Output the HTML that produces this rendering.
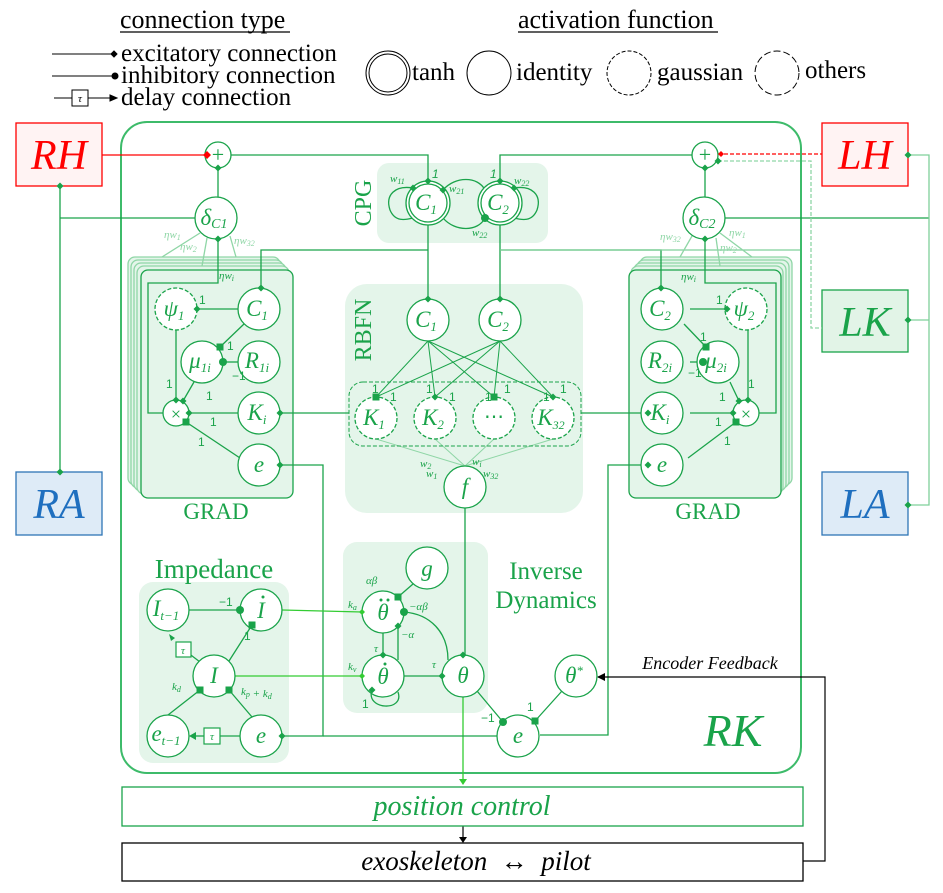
<!DOCTYPE html>
<html><head><meta charset="utf-8"><style>
html,body{margin:0;padding:0;background:#fff}
svg{display:block}
.s{font-family:"Liberation Serif",serif}
.n{font-family:"Liberation Serif",serif;font-style:italic;fill:#1aa34a;font-size:23px;text-anchor:middle}
.w{font-family:"Liberation Serif",serif;font-style:italic;fill:#1aa34a;font-size:11px}
.o{font-family:"Liberation Sans",sans-serif;fill:#1aa34a;font-size:12px}
</style></head><body>
<svg width="943" height="893" viewBox="0 0 943 893" xmlns="http://www.w3.org/2000/svg">
<defs>
<path id="d" d="M-3.5 0L0 -3.5L3.5 0L0 3.5Z" fill="#1aa34a"/>
<circle id="b" r="4" fill="#1aa34a"/>
<rect id="q" x="-3.5" y="-3.5" width="7" height="7" fill="#1aa34a"/>
</defs>
<!-- legend -->
<g class="s" font-size="25" fill="#000">
<text x="120" y="28" font-size="26">connection type</text>
<line x1="120" y1="32" x2="290" y2="32" stroke="#000" stroke-width="1.2"/>
<text x="518" y="28" font-size="26">activation function</text>
<line x1="518" y1="32" x2="718" y2="32" stroke="#000" stroke-width="1.2"/>
<text x="121" y="61">excitatory connection</text>
<text x="121" y="83">inhibitory connection</text>
<text x="121" y="105">delay connection</text>
<text x="412" y="80">tanh</text>
<text x="516" y="80">identity</text>
<text x="657" y="80">gaussian</text>
<text x="805" y="78">others</text>
</g>
<g stroke="#000" stroke-width="1" fill="none">
<line x1="52" y1="54" x2="114" y2="54"/><path d="M111 54l3-3 3 3-3 3z" fill="#000"/>
<line x1="52" y1="76" x2="114" y2="76"/><circle cx="115" cy="76" r="3" fill="#000"/>
<line x1="54" y1="98" x2="72" y2="98"/><rect x="72" y="90" width="16" height="16"/><text x="80" y="102" font-size="11" font-style="italic" text-anchor="middle" fill="#000" stroke="none" class="s">τ</text>
<line x1="88" y1="98" x2="112" y2="98"/><path d="M110 95l7 3-7 3z" fill="#000"/>
<circle cx="388" cy="73" r="22"/><circle cx="388" cy="73" r="19"/>
<circle cx="489" cy="73" r="22"/>
<circle cx="629" cy="73" r="22" stroke-dasharray="4,2"/>
<circle cx="777" cy="73" r="22" stroke-dasharray="7,3"/>
</g>

<!-- side boxes -->
<rect x="16" y="123" width="86" height="63" fill="#fff3f3" stroke="#ff0000" stroke-width="1.3"/>
<text x="59" y="169" class="s" font-style="italic" font-size="42" fill="#ff0000" text-anchor="middle">RH</text>
<rect x="822" y="123" width="86" height="63" fill="#fff3f3" stroke="#ff0000" stroke-width="1.3"/>
<text x="865" y="169" class="s" font-style="italic" font-size="42" fill="#ff0000" text-anchor="middle">LH</text>
<rect x="822" y="290" width="86" height="62" fill="#e2f4e7" stroke="#1aa34a" stroke-width="1.3"/>
<text x="865" y="336" class="s" font-style="italic" font-size="42" fill="#1aa34a" text-anchor="middle">LK</text>
<rect x="16" y="472" width="86" height="63" fill="#deebf7" stroke="#2e75b6" stroke-width="1.3"/>
<text x="59" y="518" class="s" font-style="italic" font-size="42" fill="#1f6fbf" text-anchor="middle">RA</text>
<rect x="822" y="472" width="86" height="63" fill="#deebf7" stroke="#2e75b6" stroke-width="1.3"/>
<text x="865" y="518" class="s" font-style="italic" font-size="42" fill="#1f6fbf" text-anchor="middle">LA</text>

<!-- RK box -->
<rect x="121" y="122" width="680" height="651" rx="26" fill="none" stroke="#3dbb6a" stroke-width="2"/>
<text x="733" y="746" class="s" font-style="italic" font-size="46" fill="#1aa34a" text-anchor="middle">RK</text>

<!-- shaded regions -->
<g fill="#e4f5ea" stroke="none">
<rect x="377" y="163" width="171" height="80" rx="12"/>
<rect x="345" y="284" width="238" height="229" rx="22"/>
<rect x="139" y="582" width="150" height="181" rx="14"/>
<rect x="343" y="542" width="145" height="171" rx="14"/>
</g>
<g fill="#e4f5ea" stroke="#8fd6a6" stroke-width="1.3">
<rect x="128" y="257" width="152" height="228" rx="7"/>
<rect x="131" y="260" width="152" height="228" rx="7"/>
<rect x="134" y="263" width="152" height="228" rx="7"/>
<rect x="137" y="266" width="152" height="228" rx="7"/>
<rect x="141" y="270" width="152" height="228" rx="7" stroke="#1aa34a"/>
<rect x="640" y="257" width="152" height="228" rx="7"/>
<rect x="637" y="260" width="152" height="228" rx="7"/>
<rect x="634" y="263" width="152" height="228" rx="7"/>
<rect x="631" y="266" width="152" height="228" rx="7"/>
<rect x="629" y="270" width="152" height="228" rx="7" stroke="#1aa34a"/>
</g>
<g class="s" fill="#1aa34a" font-size="23" text-anchor="middle">
<text x="216" y="519">GRAD</text>
<text x="708" y="519">GRAD</text>
<text x="214" y="578" font-size="27">Impedance</text>
<text x="546" y="579" font-size="25">Inverse</text>
<text x="546" y="608" font-size="25">Dynamics</text>
<text transform="translate(371,203) rotate(-90)" font-size="24">CPG</text>
<text transform="translate(371,330) rotate(-90)" font-size="24">RBFN</text>
</g>

<!-- connections -->
<g stroke="#1aa34a" stroke-width="1.3" fill="none">
<line x1="102" y1="155" x2="205" y2="155" stroke="#ff0000"/>
<polyline points="231,155 428,155 428,181"/>
<polyline points="692,155 500,155 500,181"/>
<line x1="218" y1="168" x2="218" y2="197"/>
<line x1="705" y1="168" x2="705" y2="197"/>
<line x1="60" y1="186" x2="60" y2="472"/>
<line x1="60" y1="218" x2="195" y2="218"/>
<line x1="725" y1="218" x2="929" y2="218"/>
<polyline points="908,155 929,155 929,505 908,505" stroke="#7fd09a"/>
<line x1="908" y1="320" x2="929" y2="320" stroke="#7fd09a"/>
<line x1="718" y1="154" x2="822" y2="154" stroke="#ff0000" stroke-dasharray="4,2"/>
<polyline points="718,161 811,161 811,328 822,328" stroke="#8fd6a6" stroke-dasharray="4,2"/>
<line x1="428" y1="225" x2="428" y2="299"/>
<line x1="500" y1="225" x2="500" y2="299"/>
<polyline points="428,250 261,250 261,288"/>
<polyline points="500,250 661,250 661,288"/>
<line x1="500" y1="250" x2="800" y2="250" stroke="#7fd09a"/>
<path d="M413 188 C395 185 385 195 390 210 C395 222 405 220 413 218"/>
<path d="M514 188 C532 185 542 195 537 210 C532 222 522 220 514 218"/>
<path d="M443 190 C455 176 478 176 485 190"/>
<path d="M443 218 C455 232 478 232 485 218"/>
<g stroke-width="1">
<line x1="428" y1="341" x2="376" y2="397"/><line x1="428" y1="341" x2="435" y2="397"/><line x1="428" y1="341" x2="494" y2="397"/><line x1="428" y1="341" x2="553" y2="397"/>
<line x1="500" y1="341" x2="376" y2="397"/><line x1="500" y1="341" x2="435" y2="397"/><line x1="500" y1="341" x2="494" y2="397"/><line x1="500" y1="341" x2="553" y2="397"/>
</g>
<g stroke="#8fd6a6" stroke-width="1">
<line x1="376" y1="439" x2="465" y2="466"/><line x1="435" y1="439" x2="465" y2="466"/><line x1="494" y1="439" x2="465" y2="466"/><line x1="553" y1="439" x2="465" y2="466"/>
</g>
<rect x="349" y="382" width="232" height="64" rx="14" stroke-dasharray="4,2" stroke-width="1"/>
<line x1="280" y1="413" x2="349" y2="413"/>
<line x1="581" y1="413" x2="648" y2="413"/>
<line x1="465" y1="508" x2="465" y2="655"/>
<line x1="463" y1="697" x2="463" y2="780" stroke="#33cc33"/>
<path d="M459 779l4 6 4-6z" fill="#33cc33" stroke="none"/>
<line x1="259" y1="309" x2="197" y2="309"/>
<line x1="244" y1="324" x2="220" y2="347"/>
<line x1="223" y1="362" x2="238" y2="362"/>
<line x1="176" y1="330" x2="176" y2="400"/>
<line x1="194" y1="382" x2="183" y2="401"/>
<line x1="189" y1="413" x2="238" y2="413"/>
<line x1="186" y1="422" x2="240" y2="458"/>
<polyline points="163,413 148,413 148,283 218,283 218,239"/>
<g stroke="#8fd6a6"><line x1="200" y1="233" x2="162" y2="257"/><line x1="207" y1="238" x2="202" y2="266"/><line x1="230" y1="236" x2="236" y2="257"/></g>
<polyline points="280,465 323,465 323,736 282,736"/>
<line x1="690" y1="309" x2="727" y2="309"/>
<line x1="684" y1="324" x2="706" y2="347"/>
<line x1="690" y1="362" x2="703" y2="362"/>
<line x1="748" y1="330" x2="748" y2="400"/>
<line x1="730" y1="382" x2="739" y2="401"/>
<line x1="690" y1="413" x2="733" y2="413"/>
<line x1="736" y1="422" x2="688" y2="458"/>
<polyline points="759,413 776,413 776,283 705,283 705,239"/>
<g stroke="#8fd6a6"><line x1="720" y1="233" x2="752" y2="257"/><line x1="716" y1="238" x2="720" y2="266"/><line x1="692" y1="236" x2="680" y2="257"/></g>
<polyline points="648,465 608,465 608,735 540,735"/>
<line x1="189" y1="610" x2="240" y2="610"/>
<line x1="229" y1="661" x2="252" y2="625"/>
<line x1="200" y1="662" x2="183" y2="649"/>
<line x1="200" y1="690" x2="168" y2="715"/>
<line x1="229" y1="690" x2="252" y2="717"/>
<line x1="240" y1="736" x2="220" y2="736"/>
<line x1="204" y1="736" x2="194" y2="736"/>
<line x1="323" y1="736" x2="497" y2="736"/>
<line x1="282" y1="610" x2="362" y2="612" stroke="#33cc33"/>
<line x1="235" y1="676" x2="362" y2="676" stroke="#33cc33"/>
<line x1="398" y1="597" x2="413" y2="584"/>
<line x1="383" y1="633" x2="383" y2="655"/>
<line x1="398" y1="626" x2="398" y2="660"/>
<path d="M404 612 C430 614 448 632 448 660"/>
<line x1="404" y1="676" x2="442" y2="676"/>
<path d="M372 690 C365 710 405 712 398 692"/>
<line x1="477" y1="691" x2="503" y2="722"/>
<line x1="562" y1="691" x2="535" y2="721"/>
</g>
<g stroke="#000" stroke-width="1.2" fill="none">
<polyline points="598,677 825,677 825,861 803,861"/>
<line x1="463" y1="826" x2="463" y2="838"/>
</g>
<path d="M597 677l8-4v8z" fill="#000"/>
<path d="M459 837l4 6 4-6z" fill="#000"/>
<text x="710" y="669" class="s" font-style="italic" font-size="18" fill="#000" text-anchor="middle">Encoder Feedback</text>
<rect x="122" y="787" width="681" height="39" fill="none" stroke="#1aa34a" stroke-width="1.3"/>
<text x="462" y="815" class="s" font-style="italic" font-size="28" fill="#1aa34a" text-anchor="middle">position control</text>
<rect x="122" y="843" width="681" height="38" fill="none" stroke="#000" stroke-width="1.3"/>
<text x="476" y="870" class="s" font-style="italic" font-size="27" fill="#000" text-anchor="middle" xml:space="preserve">exoskeleton  ↔  pilot</text>

<!-- nodes -->
<g fill="#fff" stroke="#1aa34a" stroke-width="1.3">
<circle cx="218" cy="155" r="13"/><circle cx="705" cy="155" r="13"/>
<circle cx="216" cy="218" r="21"/><circle cx="704" cy="218" r="21"/>
<circle cx="428" cy="203" r="22"/><circle cx="428" cy="203" r="19" fill="none"/>
<circle cx="500" cy="203" r="22"/><circle cx="500" cy="203" r="19" fill="none"/>
<circle cx="428" cy="320" r="21"/><circle cx="500" cy="320" r="21"/>
<g stroke-dasharray="4,2"><circle cx="376" cy="418" r="21"/><circle cx="435" cy="418" r="21"/><circle cx="494" cy="418" r="21"/><circle cx="553" cy="418" r="21"/>
<circle cx="176" cy="309" r="21"/><circle cx="746" cy="309" r="21"/></g>
<circle cx="465" cy="487" r="21"/>
<circle cx="259" cy="309" r="21"/><circle cx="202" cy="362" r="21"/><circle cx="259" cy="362" r="21"/><circle cx="176" cy="413" r="13"/><circle cx="259" cy="413" r="21"/><circle cx="259" cy="465" r="21"/>
<circle cx="662" cy="309" r="21"/><circle cx="718" cy="362" r="21"/><circle cx="662" cy="362" r="21"/><circle cx="746" cy="413" r="13"/><circle cx="662" cy="413" r="21"/><circle cx="662" cy="465" r="21"/>
<circle cx="168" cy="610" r="21"/><circle cx="261" cy="610" r="21"/><circle cx="214" cy="676" r="21"/><circle cx="168" cy="736" r="21"/><circle cx="261" cy="736" r="21"/>
<circle cx="427" cy="568" r="21"/><circle cx="383" cy="612" r="21"/><circle cx="383" cy="676" r="21"/><circle cx="463" cy="676" r="21"/><circle cx="576" cy="676" r="21"/><circle cx="518" cy="736" r="21"/>
</g>
<g fill="#fff" stroke="#1aa34a" stroke-width="1.2">
<rect x="176" y="642" width="15" height="15"/><rect x="204" y="728" width="16" height="16"/>
</g>
<text x="183" y="654" class="w" text-anchor="middle">τ</text><text x="212" y="740" class="w" text-anchor="middle">τ</text>
<path d="M175 638l-6-4 2 7z" fill="#1aa34a"/><path d="M189 736l7-4v8z" fill="#1aa34a"/>

<!-- node labels -->
<g class="n">
<text x="218" y="162" font-style="normal" font-size="22">+</text><text x="705" y="162" font-style="normal" font-size="22">+</text>
<text x="214" y="225">δ<tspan font-size="14" dy="3">C1</tspan></text><text x="702" y="225">δ<tspan font-size="14" dy="3">C2</tspan></text>
<text x="426" y="210">C<tspan font-size="13" dy="4">1</tspan></text><text x="498" y="210">C<tspan font-size="13" dy="4">2</tspan></text>
<text x="426" y="327">C<tspan font-size="13" dy="4">1</tspan></text><text x="498" y="327">C<tspan font-size="13" dy="4">2</tspan></text>
<text x="374" y="425">K<tspan font-size="13" dy="4">1</tspan></text><text x="433" y="425">K<tspan font-size="13" dy="4">2</tspan></text><text x="494" y="423" font-style="normal" font-size="20">⋯</text><text x="551" y="425">K<tspan font-size="12" dy="4">32</tspan></text>
<text x="465" y="494">f</text>
<text x="174" y="316">ψ<tspan font-size="13" dy="4">1</tspan></text><text x="257" y="316">C<tspan font-size="13" dy="4">1</tspan></text>
<text x="200" y="368">μ<tspan font-size="13" dy="4">1i</tspan></text><text x="257" y="368">R<tspan font-size="13" dy="4">1i</tspan></text>
<text x="176" y="420" font-style="normal" font-size="18">×</text><text x="257" y="420">K<tspan font-size="13" dy="4">i</tspan></text><text x="259" y="472">e</text>
<text x="744" y="316">ψ<tspan font-size="13" dy="4">2</tspan></text><text x="660" y="316">C<tspan font-size="13" dy="4">2</tspan></text>
<text x="716" y="368">μ<tspan font-size="13" dy="4">2i</tspan></text><text x="660" y="368">R<tspan font-size="13" dy="4">2i</tspan></text>
<text x="746" y="420" font-style="normal" font-size="18">×</text><text x="660" y="420">K<tspan font-size="13" dy="4">i</tspan></text><text x="662" y="472">e</text>
<text x="166" y="616">I<tspan font-size="13" dy="4">t−1</tspan></text><text x="261" y="618">I</text><text x="214" y="683">I</text>
<text x="166" y="741">e<tspan font-size="13" dy="4">t−1</tspan></text><text x="261" y="743">e</text>
<text x="427" y="576">g</text><text x="383" y="620">θ</text><text x="383" y="684">θ</text><text x="463" y="683">θ</text><text x="574" y="683">θ<tspan font-size="13" dy="-8">*</tspan></text><text x="518" y="743">e</text>
</g>
<g fill="#1aa34a"><circle cx="263" cy="597" r="1.5"/><circle cx="381" cy="600" r="1.5"/><circle cx="388" cy="600" r="1.5"/><circle cx="385" cy="664" r="1.5"/></g>

<!-- weights -->
<g class="w">
<text x="390" y="182">w<tspan font-size="8" dy="2">11</tspan></text><text x="432" y="178" class="o">1</text><text x="449" y="192">w<tspan font-size="8" dy="2">21</tspan></text>
<text x="490" y="178" class="o">1</text><text x="514" y="184">w<tspan font-size="8" dy="2">22</tspan></text><text x="472" y="236">w<tspan font-size="8" dy="2">22</tspan></text>
<text x="164" y="238" fill="#8fd6a6">ηw<tspan font-size="8" dy="2">1</tspan></text><text x="180" y="250" fill="#8fd6a6">ηw<tspan font-size="8" dy="2">2</tspan></text><text x="234" y="244" fill="#8fd6a6">ηw<tspan font-size="8" dy="2">32</tspan></text><text x="219" y="279">ηw<tspan font-size="8" dy="2">i</tspan></text>
<text x="660" y="240" fill="#8fd6a6">ηw<tspan font-size="8" dy="2">32</tspan></text><text x="729" y="236" fill="#8fd6a6">ηw<tspan font-size="8" dy="2">1</tspan></text><text x="720" y="251" fill="#8fd6a6">ηw<tspan font-size="8" dy="2">2</tspan></text><text x="681" y="280">ηw<tspan font-size="8" dy="2">i</tspan></text>
<text x="420" y="467">w<tspan font-size="8" dy="2">2</tspan></text><text x="426" y="477">w<tspan font-size="8" dy="2">1</tspan></text><text x="472" y="465">w<tspan font-size="8" dy="2">i</tspan></text><text x="483" y="477">w<tspan font-size="8" dy="2">32</tspan></text>
<text x="366" y="584">αβ</text><text x="348" y="608">k<tspan font-size="8" dy="2">a</tspan></text><text x="409" y="610">−αβ</text><text x="401" y="638">−α</text><text x="374" y="652">τ</text>
<text x="348" y="670">k<tspan font-size="8" dy="2">v</tspan></text><text x="432" y="668">τ</text>
<text x="172" y="690">k<tspan font-size="8" dy="2">d</tspan></text><text x="241" y="695">k<tspan font-size="8" dy="2">p</tspan> + k<tspan font-size="8" dy="2">d</tspan></text>
</g>
<g class="o">
<text x="199" y="304">1</text><text x="227" y="350">1</text><text x="232" y="380">−1</text><text x="166" y="388">1</text><text x="206" y="400">1</text><text x="210" y="426">1</text><text x="198" y="446">1</text>
<text x="372" y="393">1</text><text x="390" y="401">1</text><text x="426" y="393">1</text><text x="449" y="401">1</text><text x="485" y="401">1</text><text x="504" y="393">1</text><text x="543" y="401">1</text><text x="560" y="393">1</text>
<text x="716" y="304">1</text><text x="700" y="341">1</text><text x="688" y="377">−1</text><text x="748" y="388">1</text><text x="719" y="401">1</text><text x="715" y="426">1</text><text x="724" y="445">1</text>
<text x="219" y="606">−1</text><text x="244" y="640">1</text><text x="362" y="708">1</text><text x="481" y="722">−1</text><text x="527" y="711">1</text>
</g>

<!-- connection heads -->
<g>
<path d="M203 155l4-4 4 4-4 4z" fill="#ff0000"/>
<path d="M718 154l3-3 3 3-3 3z" fill="#ff0000"/>
<use href="#d" x="718" y="161"/>
<use href="#d" x="218" y="168"/><use href="#d" x="705" y="168"/>
<use href="#d" x="60" y="186"/><use href="#d" x="60" y="472"/><use href="#d" x="908" y="155"/><use href="#d" x="908" y="320"/><use href="#d" x="908" y="505"/>
<use href="#d" x="428" y="181"/><use href="#d" x="500" y="181"/><use href="#d" x="413" y="188"/><use href="#d" x="443" y="190"/><use href="#d" x="514" y="188"/><use href="#b" x="485" y="218"/>
<use href="#d" x="428" y="299"/><use href="#d" x="500" y="299"/><use href="#d" x="261" y="288"/><use href="#d" x="661" y="288"/>
<use href="#q" x="376" y="397"/><use href="#d" x="435" y="397"/><use href="#q" x="494" y="397"/><use href="#d" x="553" y="397"/>
<use href="#d" x="218" y="239"/><use href="#d" x="705" y="239"/>
<use href="#d" x="280" y="413"/><use href="#d" x="648" y="413"/><use href="#d" x="280" y="465"/><use href="#d" x="648" y="465"/>
<use href="#d" x="197" y="309"/><use href="#q" x="220" y="347"/><use href="#b" x="223" y="362"/><use href="#d" x="176" y="400"/><use href="#d" x="183" y="401"/><use href="#d" x="189" y="413"/><use href="#q" x="186" y="422"/>
<use href="#d" x="727" y="309"/><use href="#q" x="706" y="347"/><use href="#b" x="703" y="362"/><use href="#d" x="748" y="400"/><use href="#d" x="739" y="401"/><use href="#d" x="733" y="413"/><use href="#q" x="736" y="422"/>
<use href="#b" x="240" y="610"/><use href="#q" x="252" y="625"/><use href="#q" x="200" y="690"/><use href="#q" x="229" y="690"/><use href="#d" x="282" y="736"/>
<use href="#q" x="398" y="597"/><use href="#b" x="404" y="612"/><use href="#d" x="398" y="626"/><use href="#d" x="383" y="655"/><use href="#d" x="372" y="690"/><use href="#d" x="442" y="676"/><use href="#d" x="463" y="655"/>
<use href="#b" x="503" y="722"/><use href="#q" x="535" y="721"/>
<path d="M359 612l3-3 3 3-3 3z" fill="#33cc33"/><path d="M359 676l3-3 3 3-3 3z" fill="#33cc33"/>
</g>
</svg>
</body></html>
